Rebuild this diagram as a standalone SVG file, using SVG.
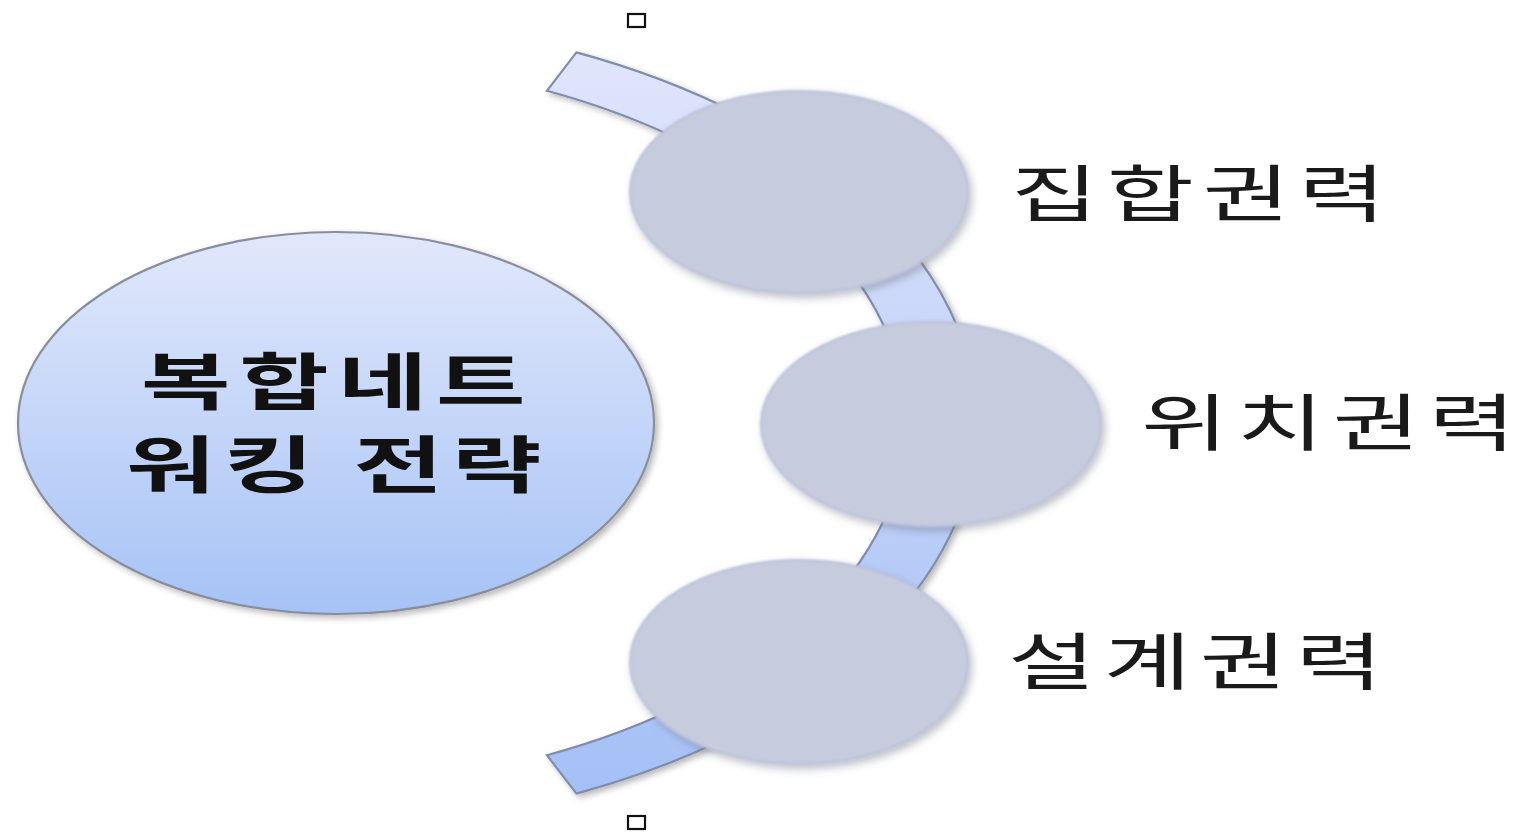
<svg xmlns="http://www.w3.org/2000/svg" width="1524" height="833" viewBox="0 0 1524 833">
  <defs>
    <linearGradient id="gBig" x1="0" y1="0" x2="0" y2="1">
      <stop offset="0" stop-color="#e2e8fb"/>
      <stop offset="1" stop-color="#a6c3f6"/>
    </linearGradient>
    <linearGradient id="gBand" x1="0" y1="0" x2="0" y2="1">
      <stop offset="0" stop-color="#e0e5fb"/>
      <stop offset="1" stop-color="#a5c0f6"/>
    </linearGradient>
    <filter id="shadow" x="-10%" y="-10%" width="125%" height="125%">
      <feGaussianBlur in="SourceAlpha" stdDeviation="3"/>
      <feOffset dx="3" dy="3" result="b"/>
      <feFlood flood-color="#000" flood-opacity="0.28"/>
      <feComposite in2="b" operator="in"/>
      <feMerge><feMergeNode/><feMergeNode in="SourceGraphic"/></feMerge>
    </filter>
    <filter id="soft" x="-10%" y="-10%" width="125%" height="125%">
      <feGaussianBlur in="SourceAlpha" stdDeviation="4"/>
      <feOffset dx="3" dy="4" result="b"/>
      <feFlood flood-color="#6b6f80" flood-opacity="0.45"/>
      <feComposite in2="b" operator="in" result="s"/>
      <feGaussianBlur in="SourceGraphic" stdDeviation="1.2" result="g"/>
      <feMerge><feMergeNode in="s"/><feMergeNode in="g"/></feMerge>
    </filter>
    <style>
      .small { fill: #c6cbdd; stroke: #bcc3dc; stroke-width: 2; }
      .label { font-family: "Noto Sans CJK KR", "Noto Sans", sans-serif; font-size: 62px; fill: #1a1a1a; letter-spacing: 5.6px; }
      .title { font-family: "Noto Sans CJK KR", "Noto Sans", sans-serif; font-size: 62px; font-weight: 700; fill: #111; letter-spacing: 5.6px; }
      .mark { fill: none; stroke: #111; stroke-width: 2.2; }
    </style>
  </defs>
  <rect width="1524" height="833" fill="#ffffff"/>

  <g id="connectors">
    <path d="M 576.4 52.4 A 684 407.3 0 0 1 576.4 793.6 L 546.9 755.2 A 613 365 0 0 0 546.9 90.8 Z" fill="url(#gBand)" stroke="#7f8cab" stroke-width="2.2" filter="url(#shadow)"/>
  </g>

  <g id="main">
    <ellipse cx="336" cy="423" rx="318" ry="191" fill="url(#gBig)" stroke="#8a8e9c" stroke-width="2.2" filter="url(#shadow)"/>
    <text class="title" transform="translate(141,405) scale(1.57,1)" x="0" y="0">복합네트</text>
    <text class="title" transform="translate(126,488) scale(1.57,1)" x="0" y="0">워킹 전략</text>
  </g>

  <g id="node1">
    <ellipse class="small" cx="799" cy="192" rx="169" ry="101" filter="url(#soft)"/>
    <text class="label" transform="translate(1011,217) scale(1.53,1)" x="0" y="0">집합권력</text>
  </g>
  <g id="node2">
    <ellipse class="small" cx="931" cy="424" rx="170" ry="102" filter="url(#soft)"/>
    <text class="label" transform="translate(1141,446) scale(1.53,1)" x="0" y="0">위치권력</text>
  </g>
  <g id="node3">
    <ellipse class="small" cx="799" cy="662" rx="169" ry="102" filter="url(#soft)"/>
    <text class="label" transform="translate(1008,685) scale(1.53,1)" x="0" y="0">설계권력</text>
  </g>

  <g id="marks">
    <rect class="mark" x="628" y="14" width="17" height="13"/>
    <rect class="mark" x="628" y="816" width="17" height="13"/>
  </g>
</svg>
